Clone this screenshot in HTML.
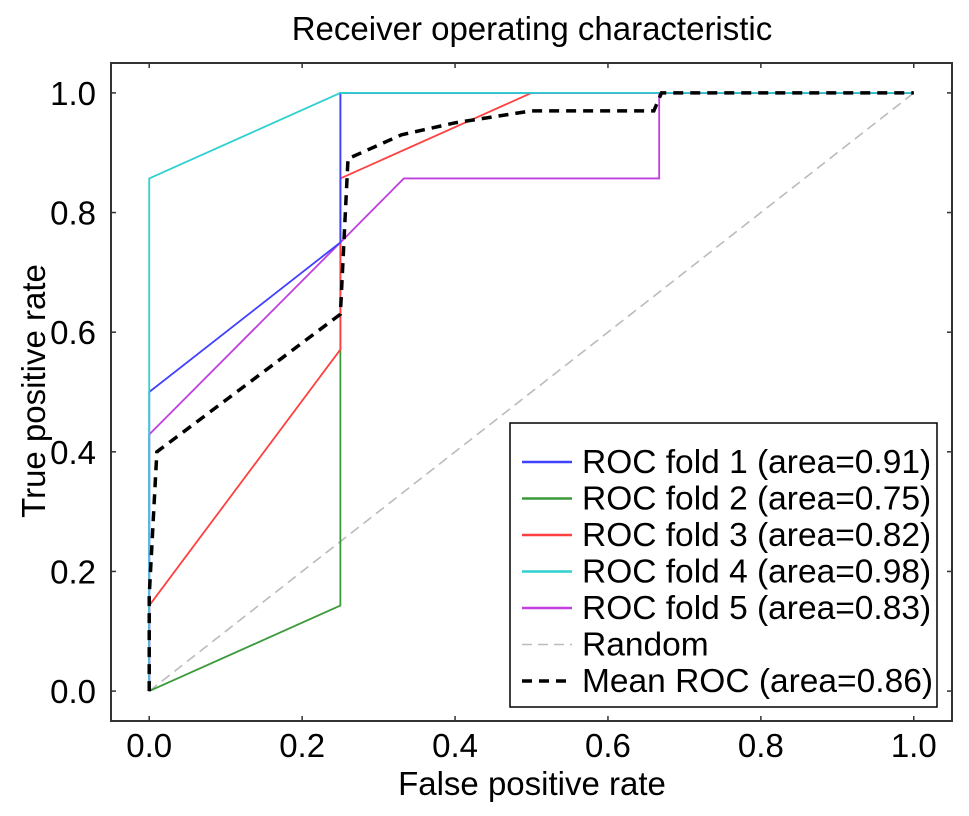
<!DOCTYPE html>
<html><head><meta charset="utf-8"><style>
body{margin:0;background:#fff;}
svg{display:block;font-family:"Liberation Sans",Arial,sans-serif;}
</style></head><body>
<svg id="chart" width="969" height="816"></svg>
<script>
const xTicks=[0.0,0.2,0.4,0.6,0.8,1.0];
const yTicks=[0.0,0.2,0.4,0.6,0.8,1.0];
const fold1X=[0,0,0.25,0.25,1];
const fold1Y=[0,0.5,0.75,1,1];
const fold2X=[0,0.25,0.25,0.25,1];
const fold2Y=[0,0.143,0.571,1,1];
const fold3X=[0,0,0.25,0.25,0.5,1];
const fold3Y=[0,0.143,0.571,0.857,1,1];
const fold4X=[0,0,0.25,1];
const fold4Y=[0,0.857,1,1];
const fold5X=[0,0,0.25,0.333,0.667,0.667,1];
const fold5Y=[0,0.429,0.75,0.857,0.857,1,1];
const meanX=[0,0,0.01,0.25,0.26,0.33,0.4,0.5,0.66,0.67,1];
const meanY=[0,0.16,0.4,0.63,0.89,0.93,0.95,0.97,0.97,1,1];
const randX=[0,1];
const randY=[0,1];
const legendLabels=["ROC fold 1 (area=0.91)","ROC fold 2 (area=0.75)","ROC fold 3 (area=0.82)","ROC fold 4 (area=0.98)","ROC fold 5 (area=0.83)","Random","Mean ROC (area=0.86)"];

const NS="http://www.w3.org/2000/svg";
const svg=document.getElementById('chart');
const L=111,R=952,T=63,B=721;
const xs=v=>L+(v+0.05)/1.1*(R-L);
const ys=v=>B-(v+0.05)/1.1*(B-T);
function mk(tag,attrs,parent){const e=document.createElementNS(NS,tag);for(const k in attrs)e.setAttribute(k,attrs[k]);(parent||svg).appendChild(e);return e;}

let t=mk('text',{x:532,y:40,'text-anchor':'middle','font-size':33,fill:'#000'});t.textContent='Receiver operating characteristic';


t=mk('text',{x:532,y:795,'text-anchor':'middle','font-size':33});t.textContent='False positive rate';


t=mk('text',{x:45,y:391,'text-anchor':'middle','font-size':33,transform:'rotate(-90 45 391)'});t.textContent='True positive rate';



xTicks.forEach(v=>{const x=xs(v);
 mk('line',{x1:x,x2:x,y1:B,y2:B-5,stroke:'#333','stroke-width':1.5});
 mk('line',{x1:x,x2:x,y1:T,y2:T+5,stroke:'#333','stroke-width':1.5});
 const l=mk('text',{x:x,y:757,'text-anchor':'middle','font-size':33});l.textContent=v.toFixed(1);
 
 
});
yTicks.forEach(v=>{const y=ys(v);
 mk('line',{x1:L,x2:L+5,y1:y,y2:y,stroke:'#333','stroke-width':1.5});
 mk('line',{x1:R,x2:R-5,y1:y,y2:y,stroke:'#333','stroke-width':1.5});
 const l=mk('text',{x:96,y:y+12,'text-anchor':'end','font-size':33});l.textContent=v.toFixed(1);
 
 
});

function series(X,Y,color,w,dash,name){
 const p=mk('polyline',{points:X.map((x,i)=>xs(x)+','+ys(Y[i])).join(' '),fill:'none',stroke:color,'stroke-width':w});
 if(dash)p.setAttribute('stroke-dasharray',dash);
 
 
}
series(randX,randY,'#bbb',1.6,'10,6','random-line');
series(fold2X,fold2Y,'#3a9a3a',1.8,null,'fold-2-line');
series(fold3X,fold3Y,'#ff4040',1.8,null,'fold-3-line');
series(fold5X,fold5Y,'#c040e0',1.8,null,'fold-5-line');
series(fold1X,fold1Y,'#4040ff',1.8,null,'fold-1-line');
series(fold4X,fold4Y,'#30d0d0',1.8,null,'fold-4-line');
series(meanX,meanY,'#000',3.5,'10,7','mean-roc-line');

const fr=mk('rect',{x:L,y:T,width:R-L,height:B-T,fill:'none',stroke:'#333','stroke-width':2});



const lg=mk('g',{});


mk('rect',{x:510,y:423,width:427,height:284,fill:'#fff',stroke:'#000','stroke-width':1.5},lg);
const lc=['#4040ff','#3a9a3a','#ff4040','#30d0d0','#c040e0','#bbb','#000'];
const lw=[2.5,2.5,2.5,2.5,2.5,1.6,3.5];
legendLabels.forEach((s,i)=>{const y=462+i*36.5;
 const ln=mk('line',{x1:522,x2:572,y1:y,y2:y,stroke:lc[i],'stroke-width':lw[i]},lg);
 if(i==5)ln.setAttribute('stroke-dasharray','10,6');
 if(i==6)ln.setAttribute('stroke-dasharray','10,7');
 const tx=mk('text',{x:582,y:y+11,'font-size':33.5},lg);tx.textContent=s;
 
 
});
</script>
</body></html>
